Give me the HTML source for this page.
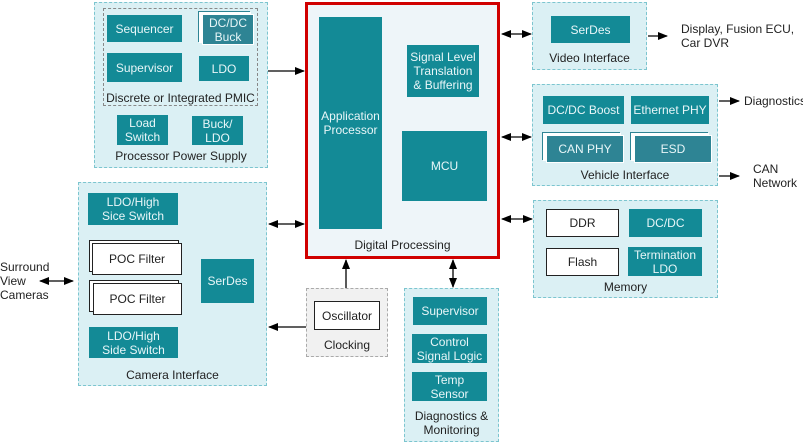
<!DOCTYPE html>
<html><head><meta charset="utf-8"><style>
body{margin:0;width:803px;height:442px;background:#fff;position:relative;overflow:hidden;font-family:"Liberation Sans",sans-serif;}
.a{position:absolute;box-sizing:border-box;}
.p{background:#dbf0f4;border:1px dashed #7cc5cf;}
.t{background:#138a96;color:#e8f6f8;display:flex;align-items:center;justify-content:center;text-align:center;font-size:12px;line-height:14px;}
.d{background:#2e8494;border:1.5px solid #fff;box-shadow:-3px -2px 0 0 #fff,-4px -3px 0 0 #2e8494;}
.w{background:#fff;border:1px solid #222;color:#222;display:flex;align-items:center;justify-content:center;text-align:center;font-size:12px;}
.l{position:absolute;font-size:12px;color:#222;text-align:center;line-height:14px;white-space:nowrap;}
</style></head><body>
<!-- Power supply -->
<div class="a p" style="left:94px;top:2px;width:174px;height:166px"></div>
<div class="a" style="left:103px;top:8px;width:155px;height:98px;border:1px dashed #888"></div>
<div class="a t" style="left:107px;top:15px;width:75px;height:27px">Sequencer</div>
<div class="a t d" style="left:202px;top:14px;width:52px;height:31px">DC/DC<br>Buck</div>
<div class="a t" style="left:107px;top:53px;width:75px;height:29px">Supervisor</div>
<div class="a t" style="left:199px;top:56px;width:50px;height:25px">LDO</div>
<div class="l" style="left:103px;top:91px;width:155px">Discrete or Integrated PMIC</div>
<div class="a t" style="left:117px;top:115px;width:51px;height:30px">Load<br>Switch</div>
<div class="a t" style="left:192px;top:116px;width:51px;height:29px">Buck/<br>LDO</div>
<div class="l" style="left:94px;top:149px;width:174px">Processor Power Supply</div>
<!-- Camera -->
<div class="a p" style="left:78px;top:182px;width:189px;height:204px"></div>
<div class="a t" style="left:88px;top:193px;width:90px;height:32px">LDO/High<br>Sice Switch</div>
<div class="a w" style="left:89px;top:240px;width:90px;height:32px"></div>
<div class="a w" style="left:92px;top:243px;width:90px;height:32px">POC Filter</div>
<div class="a w" style="left:89px;top:280px;width:90px;height:32px"></div>
<div class="a w" style="left:93px;top:283px;width:89px;height:32px">POC Filter</div>
<div class="a t" style="left:201px;top:259px;width:53px;height:44px">SerDes</div>
<div class="a t" style="left:89px;top:327px;width:89px;height:31px">LDO/High<br>Side Switch</div>
<div class="l" style="left:78px;top:368px;width:189px">Camera Interface</div>
<div class="l" style="left:0;top:260px;text-align:left">Surround<br>View<br>Cameras</div>
<!-- Digital -->
<div class="a" style="left:305px;top:2px;width:195px;height:257px;background:#eef5f9;border:3px solid #d00000"></div>
<div class="a t" style="left:319px;top:17px;width:63px;height:212px;padding-bottom:0px">Application<br>Processor</div>
<div class="a t" style="left:407px;top:45px;width:72px;height:52px">Signal Level<br>Translation<br>&amp; Buffering</div>
<div class="a t" style="left:402px;top:131px;width:85px;height:70px">MCU</div>
<div class="l" style="left:305px;top:238px;width:195px">Digital Processing</div>
<!-- Clocking -->
<div class="a" style="left:306px;top:288px;width:82px;height:69px;background:#f1f1f1;border:1px dashed #aaa"></div>
<div class="a w" style="left:314px;top:301px;width:66px;height:29px">Oscillator</div>
<div class="l" style="left:306px;top:338px;width:82px">Clocking</div>
<!-- Diagnostics -->
<div class="a p" style="left:404px;top:288px;width:95px;height:154px"></div>
<div class="a t" style="left:413px;top:297px;width:74px;height:28px">Supervisor</div>
<div class="a t" style="left:412px;top:334px;width:75px;height:29px">Control<br>Signal Logic</div>
<div class="a t" style="left:412px;top:372px;width:75px;height:29px">Temp<br>Sensor</div>
<div class="l" style="left:404px;top:409px;width:95px">Diagnostics &amp;<br>Monitoring</div>
<!-- Video -->
<div class="a p" style="left:532px;top:2px;width:115px;height:68px"></div>
<div class="a t" style="left:551px;top:16px;width:79px;height:27px">SerDes</div>
<div class="l" style="left:532px;top:51px;width:115px">Video Interface</div>
<div class="l" style="left:681px;top:22px;text-align:left">Display, Fusion ECU,<br>Car DVR</div>
<!-- Vehicle -->
<div class="a p" style="left:532px;top:84px;width:186px;height:102px"></div>
<div class="a t" style="left:543px;top:96px;width:81px;height:28px">DC/DC Boost</div>
<div class="a t" style="left:631px;top:96px;width:78px;height:28px">Ethernet PHY</div>
<div class="a t d" style="left:546px;top:135px;width:78px;height:28px">CAN PHY</div>
<div class="a t d" style="left:634px;top:135px;width:78px;height:28px">ESD</div>
<div class="l" style="left:532px;top:168px;width:186px">Vehicle Interface</div>
<div class="l" style="left:744px;top:94px;text-align:left">Diagnostics</div>
<div class="l" style="left:753px;top:162px;text-align:left">CAN<br>Network</div>
<!-- Memory -->
<div class="a p" style="left:533px;top:200px;width:185px;height:98px"></div>
<div class="a w" style="left:546px;top:209px;width:73px;height:28px">DDR</div>
<div class="a t" style="left:629px;top:209px;width:73px;height:28px">DC/DC</div>
<div class="a w" style="left:546px;top:248px;width:73px;height:28px">Flash</div>
<div class="a t" style="left:628px;top:247px;width:74px;height:29px">Termination<br>LDO</div>
<div class="l" style="left:533px;top:280px;width:185px">Memory</div>
<svg class="a" style="left:0;top:0" width="803" height="442">
<defs>
<marker id="e" markerWidth="10" markerHeight="8" refX="9" refY="4" orient="auto" markerUnits="userSpaceOnUse"><path d="M0,0L10,4L0,8z" fill="#000"/></marker>
<marker id="s" markerWidth="10" markerHeight="8" refX="1" refY="4" orient="auto" markerUnits="userSpaceOnUse"><path d="M10,0L0,4L10,8z" fill="#000"/></marker>
</defs>
<g stroke="#000" stroke-width="1.3" fill="none">
<line x1="268" y1="71" x2="304" y2="71" marker-end="url(#e)"/>
<line x1="269" y1="224" x2="304" y2="224" marker-start="url(#s)" marker-end="url(#e)"/>
<line x1="306" y1="327" x2="269" y2="327" marker-end="url(#e)"/>
<line x1="346" y1="288" x2="346" y2="260" marker-end="url(#e)"/>
<line x1="453" y1="260" x2="453" y2="287" marker-start="url(#s)" marker-end="url(#e)"/>
<line x1="502" y1="34" x2="531" y2="34" marker-start="url(#s)" marker-end="url(#e)"/>
<line x1="502" y1="137" x2="531" y2="137" marker-start="url(#s)" marker-end="url(#e)"/>
<line x1="502" y1="219" x2="532" y2="219" marker-start="url(#s)" marker-end="url(#e)"/>
<line x1="648" y1="36" x2="667" y2="36" marker-end="url(#e)"/>
<line x1="719" y1="101" x2="739" y2="101" marker-end="url(#e)"/>
<line x1="719" y1="176" x2="739" y2="176" marker-end="url(#e)"/>
<line x1="40" y1="281" x2="73" y2="281" marker-start="url(#s)" marker-end="url(#e)"/>
</g></svg>
</body></html>
